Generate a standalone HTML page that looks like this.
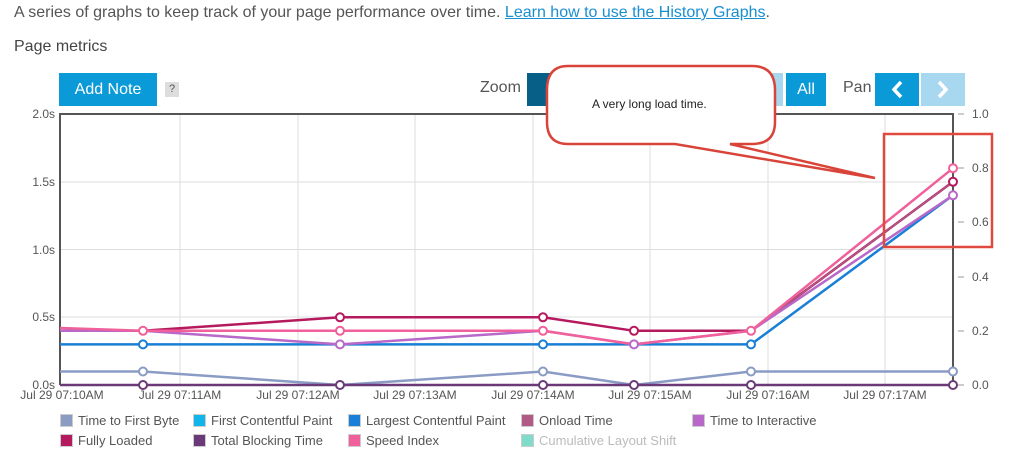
<!DOCTYPE html>
<html><head><meta charset="utf-8"><style>
body{margin:0;width:1010px;height:461px;background:#fff;font-family:"Liberation Sans",sans-serif;position:relative;overflow:hidden;color:#555}
.a{position:absolute;white-space:nowrap}
.btn{position:absolute;background:#0a9ad8;color:#fff;font-size:16px;text-align:center}
.lg{position:absolute;font-size:13px;color:#555;white-space:nowrap}
.lg i{display:inline-block;width:11px;height:11px;border:1px solid #ccc;vertical-align:-2px;margin-right:5px}
</style></head><body>
<div class="a" style="left:14px;top:4px;font-size:16px;color:#555">A series of graphs to keep track of your page performance over time. <span style="color:#1a8fd0;text-decoration:underline">Learn how to use the History Graphs</span>.</div>
<div class="a" style="left:14px;top:38px;font-size:16px;color:#444">Page metrics</div>
<div class="btn" style="left:59px;top:73px;width:98px;height:33px;line-height:33px">Add Note</div>
<div class="a" style="left:165px;top:82px;width:14px;height:15px;background:#ddd;font-size:11px;text-align:center;line-height:15px;color:#555">?</div>
<div class="a" style="left:480px;top:79px;font-size:16px;color:#555">Zoom</div>
<div class="btn" style="left:527px;top:73px;width:30px;height:33px;background:#075f88"></div>
<div class="btn" style="left:757px;top:73px;width:26px;height:33px;background:#a8d8f0"></div>
<div class="btn" style="left:786px;top:73px;width:40px;height:33px;line-height:33px">All</div>
<div class="a" style="left:843px;top:79px;font-size:16px;color:#555">Pan</div>
<svg class="a" style="left:875px;top:73px" width="90" height="33">
<rect width="44" height="33" fill="#0a9ad8"/><rect x="46" width="44" height="33" fill="#a8d8f0"/>
<polyline points="26,9 19,16.5 26,24" fill="none" stroke="#fff" stroke-width="3.5"/>
<polyline points="64,9 71,16.5 64,24" fill="none" stroke="#fff" stroke-width="3.5"/>
</svg>
<svg class="a" style="left:0;top:0" width="1010" height="461" font-family="Liberation Sans" font-size="12" fill="#555">
<g stroke="#ddd" stroke-width="1">
<line x1="60" x2="953" y1="182" y2="182"/><line x1="60" x2="953" y1="249.5" y2="249.5"/><line x1="60" x2="953" y1="317" y2="317"/>
<line x1="180" x2="180" y1="114" y2="385"/><line x1="298" x2="298" y1="114" y2="385"/><line x1="415" x2="415" y1="114" y2="385"/><line x1="533" x2="533" y1="114" y2="385"/><line x1="650" x2="650" y1="114" y2="385"/><line x1="768" x2="768" y1="114" y2="385"/><line x1="885" x2="885" y1="114" y2="385"/>
</g>
<polyline points="60,385 60,114 953,114 953,385" fill="none" stroke="#555" stroke-width="2"/>
<g text-anchor="end"><text x="55" y="118">2.0s</text><text x="55" y="186">1.5s</text><text x="55" y="254">1.0s</text><text x="55" y="321">0.5s</text><text x="55" y="389">0.0s</text></g>
<g><text x="972" y="118">1.0</text><text x="972" y="172">0.8</text><text x="972" y="226">0.6</text><text x="972" y="281">0.4</text><text x="972" y="335">0.2</text><text x="972" y="389">0.0</text></g>
<g stroke="#999"><line x1="958" x2="964" y1="114" y2="114"/><line x1="958" x2="964" y1="168" y2="168"/><line x1="958" x2="964" y1="222" y2="222"/><line x1="958" x2="964" y1="277" y2="277"/><line x1="958" x2="964" y1="331" y2="331"/><line x1="958" x2="964" y1="385" y2="385"/></g>
<g text-anchor="middle" font-size="12"><text x="62" y="399">Jul 29 07:10AM</text><text x="180" y="399">Jul 29 07:11AM</text><text x="298" y="399">Jul 29 07:12AM</text><text x="415" y="399">Jul 29 07:13AM</text><text x="533" y="399">Jul 29 07:14AM</text><text x="650" y="399">Jul 29 07:15AM</text><text x="768" y="399">Jul 29 07:16AM</text><text x="885" y="399">Jul 29 07:17AM</text></g>
<g fill="none" stroke-width="2.5">
<polyline stroke="#8a9bc4" points="60,371.5 143,371.5 340,385 543,371.5 634,385 751,371.5 953,371.5"/>
<polyline stroke="#b5195e" points="60,330.8 143,330.8 340,317.3 543,317.3 634,330.8 751,330.8 953,181.8"/>
<polyline stroke="#1a7fd6" points="60,344.4 143,344.4 340,344.4 543,344.4 634,344.4 751,344.4 953,195.3"/>
<polyline stroke="#b05a85" stroke-width="1.5" points="60,330.8 143,330.8 340,344.4 543,330.8 634,344.4 751,330.8 953,181.8"/>
<polyline stroke="#b868c8" points="60,330.8 143,330.8 340,344.4 543,330.8 634,344.4 751,330.8 953,195.3"/>
<polyline stroke="#f0609a" points="60,328 143,330.8 340,330.8 543,330.8 634,344.4 751,330.8 953,168.2"/>
<polyline stroke="#6a3a78" points="60,385 953,385"/>
</g>
<g fill="#fff" stroke-width="2">
<g stroke="#8a9bc4"><circle cx="143" cy="371.5" r="4"/><circle cx="543" cy="371.5" r="4"/><circle cx="751" cy="371.5" r="4"/><circle cx="953" cy="371.5" r="4"/></g>
<g stroke="#1a7fd6"><circle cx="143" cy="344.4" r="4"/><circle cx="543" cy="344.4" r="4"/><circle cx="751" cy="344.4" r="4"/></g>
<g stroke="#b5195e"><circle cx="340" cy="317.3" r="4"/><circle cx="543" cy="317.3" r="4"/><circle cx="634" cy="330.8" r="4"/><circle cx="953" cy="181.8" r="4"/></g>
<g stroke="#b868c8"><circle cx="340" cy="344.4" r="4"/><circle cx="634" cy="344.4" r="4"/><circle cx="953" cy="195.3" r="4"/></g>
<g stroke="#f0609a"><circle cx="143" cy="330.8" r="4"/><circle cx="340" cy="330.8" r="4"/><circle cx="543" cy="330.8" r="4"/><circle cx="751" cy="330.8" r="4"/><circle cx="953" cy="168.2" r="4"/></g>
<g stroke="#6a3a78"><circle cx="143" cy="385" r="4"/><circle cx="340" cy="385" r="4"/><circle cx="543" cy="385" r="4"/><circle cx="634" cy="385" r="4"/><circle cx="751" cy="385" r="4"/><circle cx="953" cy="385" r="4"/></g>
</g>
<rect x="884" y="134" width="108" height="113" fill="none" stroke="#e04a3e" stroke-width="2.5"/>
<path d="M568,66 H752 Q775,66 775,90 V122 Q775,144 752,144 H730 L875,178 L675,144 H568 Q547,144 547,122 V90 Q547,66 568,66 Z" fill="#fff" stroke="#d9443a" stroke-width="2.5"/>
<text x="592" y="108" font-size="12" fill="#222">A very long load time.</text>
</svg>
<div class="lg" style="left:60px;top:413px"><i style="background:#8a9bc4"></i>Time to First Byte</div>
<div class="lg" style="left:193px;top:413px"><i style="background:#12b5ea"></i>First Contentful Paint</div>
<div class="lg" style="left:348px;top:413px"><i style="background:#1a7fd6"></i>Largest Contentful Paint</div>
<div class="lg" style="left:521px;top:413px"><i style="background:#b05a85"></i>Onload Time</div>
<div class="lg" style="left:692px;top:413px"><i style="background:#b868c8"></i>Time to Interactive</div>
<div class="lg" style="left:60px;top:433px"><i style="background:#b5195e"></i>Fully Loaded</div>
<div class="lg" style="left:193px;top:433px"><i style="background:#6a3a78"></i>Total Blocking Time</div>
<div class="lg" style="left:348px;top:433px"><i style="background:#f0609a"></i>Speed Index</div>
<div class="lg" style="left:521px;top:433px;color:#bbb"><i style="background:#80dcc8"></i>Cumulative Layout Shift</div>
</body></html>
